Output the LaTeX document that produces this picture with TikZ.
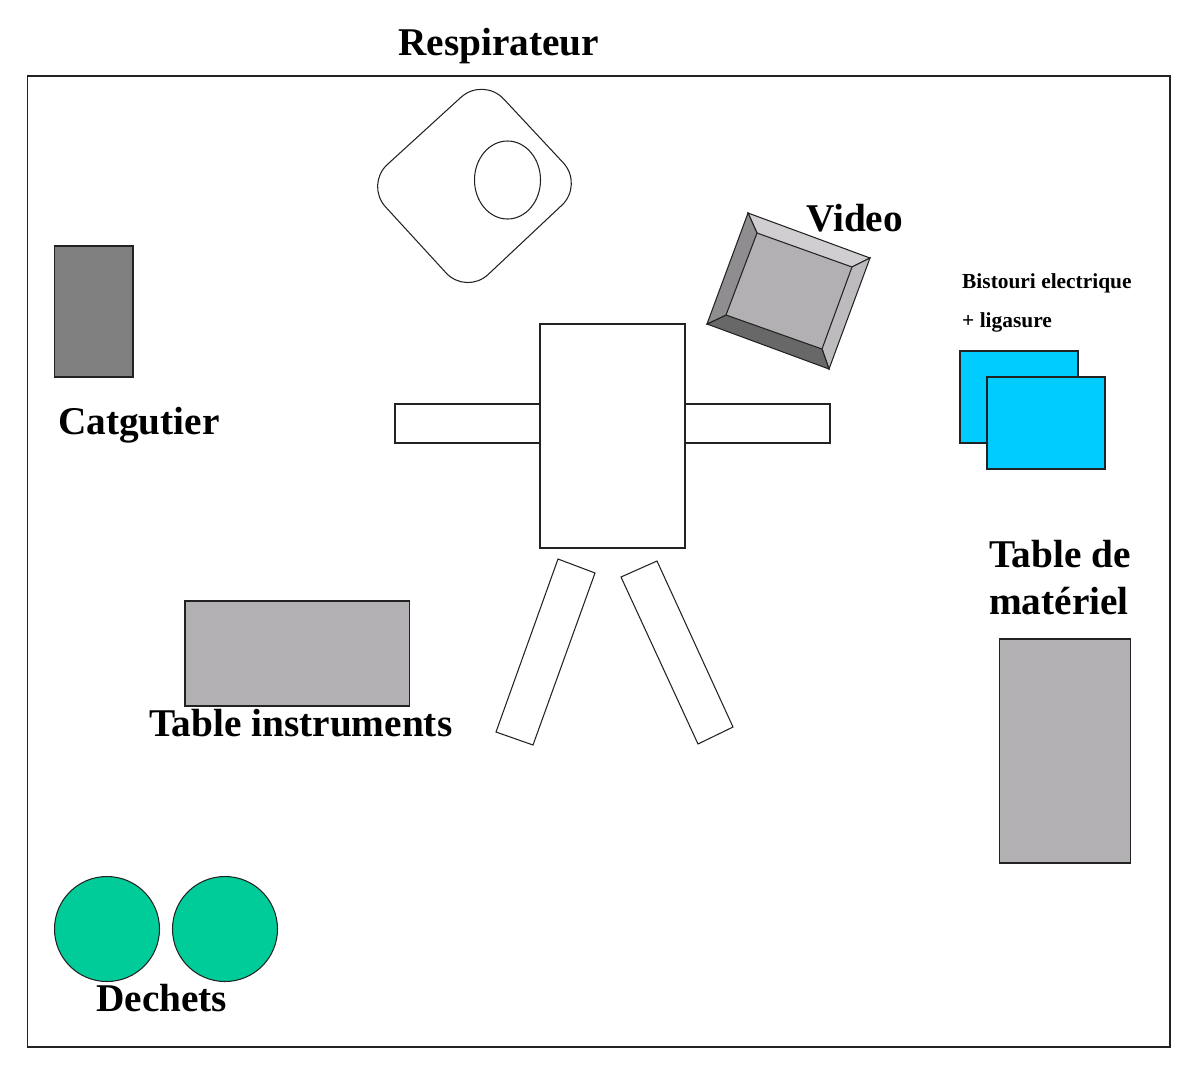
\documentclass[tikz,border=0pt]{standalone}
\usepackage{fontspec}
\setmainfont{Liberation Serif}
\definecolor{tablegray}{HTML}{B2B0B2}
\definecolor{catgray}{HTML}{808080}
\definecolor{topface}{HTML}{D0CED0}
\definecolor{leftface}{HTML}{8F8D8F}
\definecolor{bottomface}{HTML}{696869}
\definecolor{rightface}{HTML}{BDBBBD}
\definecolor{bluebox}{HTML}{00CCFF}
\definecolor{greenbin}{HTML}{00CC99}
\definecolor{inkdark}{HTML}{222222}
\tikzset{
  shapeline/.style={draw=inkdark,line width=1.05pt,line join=miter},
  biglabel/.style={anchor=base west,inner sep=0pt,text=black,font=\bfseries\fontsize{39.3}{39.3}\selectfont},
  smalllabel/.style={anchor=base west,inner sep=0pt,text=black,font=\bfseries\fontsize{21.4}{21.4}\selectfont},
}
\begin{document}
\begin{tikzpicture}[x=1pt,y=-1pt]
\useasboundingbox (0,0) rectangle (1199,1077);
\fill[white] (0,0) rectangle (1199,1077);
% frame
\draw[shapeline] (27.5,76) rectangle (1170,1047);
% respirator
\draw[shapeline,rounded corners=30pt] (483.2,77) -- (583.7,184.7) -- (466.3,295) -- (365.2,184.7) -- cycle;
\draw[shapeline] (507.5,180) ellipse [x radius=33,y radius=39];
% video
\fill[tablegray] (757,233) -- (852,267) -- (822,349) -- (726,315) -- cycle;
\filldraw[shapeline,fill=topface] (748,213) -- (870,258) -- (852,267) -- (757,233) -- cycle;
\filldraw[shapeline,fill=rightface] (870,258) -- (829,369) -- (822,349) -- (852,267) -- cycle;
\filldraw[shapeline,fill=bottomface] (829,369) -- (707,324) -- (726,315) -- (822,349) -- cycle;
\filldraw[shapeline,fill=leftface] (707,324) -- (748,213) -- (757,233) -- (726,315) -- cycle;
% patient
\draw[shapeline] (395,404) rectangle (540,443);
\draw[shapeline] (685,404) rectangle (830,443);
\draw[shapeline] (540,324) rectangle (685,548);
\draw[shapeline] (558,559) -- (595,573) -- (533,745) -- (496,732) -- cycle;
\draw[shapeline] (621,577) -- (657,561) -- (733,727) -- (698,744) -- cycle;
% furniture
\filldraw[shapeline,fill=catgray] (54.5,246) rectangle (133,377);
\filldraw[shapeline,fill=tablegray] (185,601) rectangle (409.5,706);
\filldraw[shapeline,fill=tablegray] (999.5,639) rectangle (1130.5,863);
\filldraw[shapeline,fill=bluebox] (960,351) rectangle (1078,443);
\filldraw[shapeline,fill=bluebox] (987,377) rectangle (1105,469);
\filldraw[shapeline,fill=greenbin] (107,929) circle [radius=52.5];
\filldraw[shapeline,fill=greenbin] (225,929) circle [radius=52.5];
% labels
\node[biglabel] (respi) at (398,55) {Respirateur};
\node[biglabel] (video) at (806,231) {Video};
\node[biglabel] (catgut) at (58,434) {Catgutier};
\node[biglabel] (tablede) at (989,567) {Table de};
\node[biglabel] (materiel) at (989,614) {matériel};
\node[biglabel] (instr) at (149,736) {Table instruments};
\node[biglabel] (dechets) at (96,1011) {Dechets};
\node[smalllabel] (bistouri) at (962,288) {Bistouri electrique};
\node[smalllabel] (ligasure) at (962,327) {+ ligasure};
\end{tikzpicture}
\end{document}
